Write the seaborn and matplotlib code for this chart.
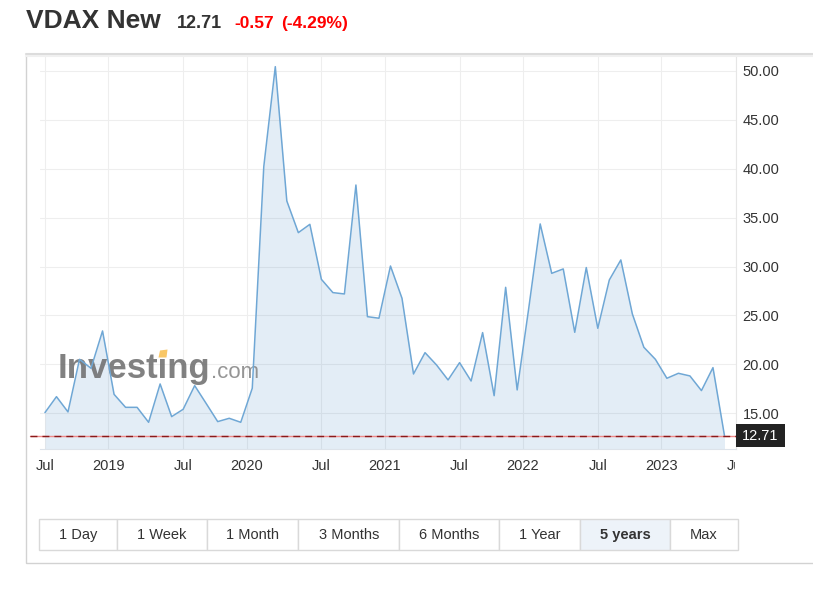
import numpy as np
import pandas as pd
import matplotlib
matplotlib.use("Agg")
import matplotlib.pyplot as plt
import seaborn as sns
from matplotlib.patches import Rectangle, Polygon
from matplotlib.transforms import Bbox, TransformedBbox, blended_transform_factory

# ---- data (monthly closes, Jul 2018 .. Jun 2023) ----
vdax = [15.07, 16.70, 15.14, 20.52, 19.60, 23.42, 16.94, 15.61, 15.61, 14.08,
        18.00, 14.66, 15.41, 17.83, 16.00, 14.15, 14.49, 14.08, 17.56, 40.22,
        50.44, 36.71, 33.47, 34.32, 28.70, 27.34, 27.20, 38.34, 24.88, 24.72,
        30.06, 26.76, 19.02, 21.20, 19.94, 18.41, 20.18, 18.30, 23.25, 16.80,
        27.88, 17.39, 25.70, 34.36, 29.31, 29.76, 23.28, 29.90, 23.69, 28.63,
        30.68, 25.16, 21.75, 20.52, 18.58, 19.09, 18.82, 17.32, 19.67, 12.71]
xtick_labels = ["Jul", "2019", "Jul", "2020", "Jul", "2021", "Jul", "2022", "Jul", "2023", "Jul"]
ytick_values = [15, 20, 25, 30, 35, 40, 45, 50]
last_price = 12.71
change = -0.57
change_pct = -4.29
ranges = ["1 Day", "1 Week", "1 Month", "3 Months", "6 Months", "1 Year", "5 years", "Max"]
active_range = "5 years"

df = pd.DataFrame({"point": np.arange(len(vdax)), "value": vdax})

# layout (pixels of the 813x589 picture)
W, H = 813, 589
fx = lambda px: px / W
fy = lambda py: 1 - py / H
xtick_pos = [0, 5.5, 12, 17.5, 24, 29.5, 36, 41.5, 48, 53.5, 60]
button_edges = [39.3, 117.3, 206.7, 298.3, 399.3, 499.3, 580.3, 670.3, 737.7]

sns.set_style("white")
plt.rcParams['font.family'] = ['Liberation Sans', 'DejaVu Sans']

fig = plt.figure(figsize=(W / 100, H / 100), dpi=100)
ax = fig.add_axes([fx(40), fy(449), fx(736) - fx(40), fy(56) - fy(449)])

line_col = "#6fa7d5"
ax.fill_between(df["point"], df["value"], 0, color="#1e6fb5", alpha=0.12, lw=0, zorder=2)
sns.lineplot(data=df, x="point", y="value", ax=ax, color=line_col, lw=1.1, zorder=3)

ax.set_xlim(-0.43, 59.57)
ax.set_ylim(11.35, 51.53)

# red last-price line
ax.axhline(last_price, xmin=-0.015, color="#f08a8a", lw=1, zorder=4, clip_on=False)
ax.axhline(last_price, xmin=-0.015, color="#8b1a1a", lw=1, dashes=(5, 3.6), zorder=4, clip_on=False)

# axes styling
ax.set_xlabel("")
ax.set_ylabel("")
ax.yaxis.tick_right()
ax.set_yticks(ytick_values)
ax.set_yticklabels([f"{v:.2f}" for v in ytick_values])
ax.set_xticks(xtick_pos)
ax.set_xticklabels(xtick_labels)
ax.tick_params(axis="y", length=0, pad=4.8, labelsize=10.5, labelcolor="#333333")
ax.tick_params(axis="x", length=4.3, width=0.8, color="#dde3ea", pad=3, labelsize=10.5,
               labelcolor="#333333")
ax.grid(True, color="#eeeeee", lw=0.8, zorder=1)
ax.set_axisbelow(True)
for s in ["top", "left"]:
    ax.spines[s].set_visible(False)
ax.spines["right"].set_color("#e6e6e6")
ax.spines["bottom"].set_color("#dde3ea")
ax.spines["right"].set_linewidth(0.8)
ax.spines["bottom"].set_linewidth(0.8)

# last "Jul" label cut by the plot edge
clip = TransformedBbox(Bbox([[0, 0], [fx(734.5), 1]]), fig.transFigure)
lab = ax.get_xticklabels()[-1]
lab.set_clip_on(True)
lab.set_clip_box(clip)

# price box on the right axis
bt = blended_transform_factory(ax.transAxes, ax.transData)
ax.add_patch(Rectangle((1.0, last_price - 1.16), 49 / 696, 2.32, transform=bt,
                       facecolor="#222222", edgecolor="none", clip_on=False, zorder=6))
ax.text(1.0 + 24.5 / 696, last_price, f"{last_price:.2f}", transform=bt, color="white",
        fontsize=10.5, ha="center", va="center", zorder=7, clip_on=False)

# watermark
ax.text(fx(58), fy(378), "Investing", transform=fig.transFigure, fontsize=25,
        fontweight="bold", color="#6b6b6b", alpha=0.85, zorder=2.5, va="baseline")
ax.text(fx(211), fy(378), ".com", transform=fig.transFigure, fontsize=16,
        color="#8a8a8a", alpha=0.9, zorder=2.5, va="baseline")
ax.add_patch(Polygon([(fx(158.5), fy(357.5)), (fx(166.5), fy(357.5)), (fx(167.5), fy(349.5)),
                      (fx(160), fy(350.5))], closed=True, transform=fig.transFigure,
                     facecolor="#f9c766", edgecolor="none", zorder=2.6, clip_on=False))

# header
fig.text(fx(26), fy(28.3), "VDAX New", fontsize=19, fontweight="bold", color="#333333",
         va="baseline")
fig.text(fx(176.7), fy(28.3), f"{last_price:.2f}", fontsize=13, fontweight="bold",
         color="#333333", va="baseline")
fig.text(fx(234.3), fy(28.3), f"{change:.2f}", fontsize=12.5, fontweight="bold",
         color="#ff0000", va="baseline")
fig.text(fx(281), fy(28.3), f"({change_pct:.2f}%)", fontsize=12.5, fontweight="bold",
         color="#ff0000", va="baseline")

# card frame
fig.patches.append(Rectangle((fx(26), fy(563)), fx(820) - fx(26), fy(54) - fy(563),
                             transform=fig.transFigure, fill=False, edgecolor="#d2d2d2", lw=1))
fig.lines.append(plt.Line2D([fx(26), 1], [fy(53.5), fy(53.5)], transform=fig.transFigure,
                            color="#dcdcdc", lw=1.5))
fig.lines.append(plt.Line2D([fx(26), 1], [fy(55.5), fy(55.5)], transform=fig.transFigure,
                            color="#f0f0f0", lw=1.5))

# range buttons
for i, name in enumerate(ranges):
    x0, x1 = button_edges[i], button_edges[i + 1]
    on = name == active_range
    fig.patches.append(Rectangle((fx(x0), fy(550)), fx(x1) - fx(x0), fy(519.3) - fy(550),
                                 transform=fig.transFigure,
                                 facecolor="#edf3f9" if on else "white",
                                 edgecolor="#d9d9d9", lw=1))
    fig.text(fx((x0 + x1) / 2), fy(535), name, fontsize=10.5, color="#333333",
             fontweight="bold" if on else "normal", ha="center", va="center")

fig.savefig("out.png", dpi=100)
